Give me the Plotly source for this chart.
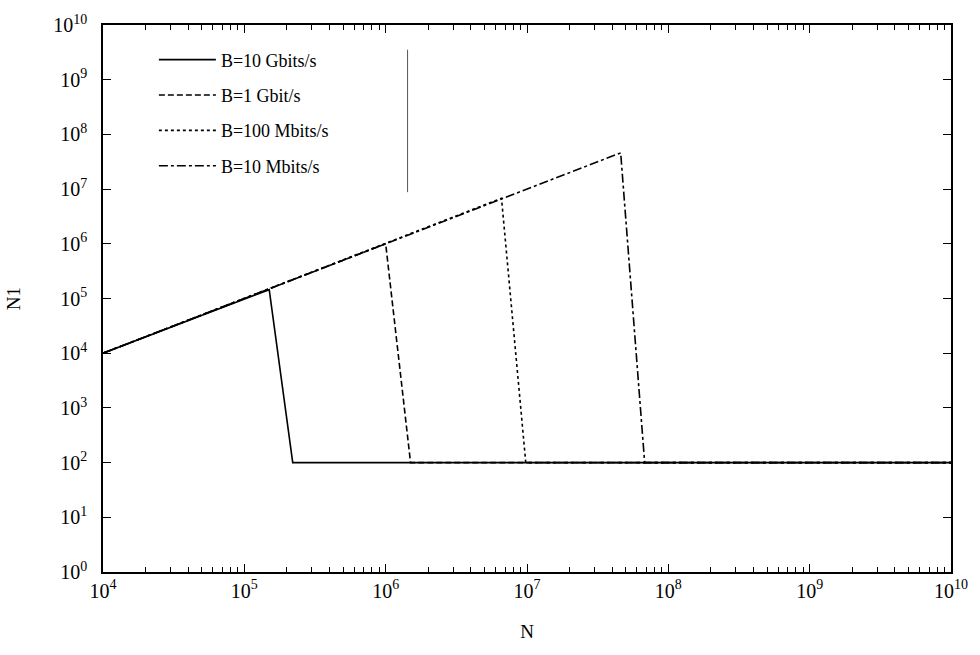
import plotly.graph_objects as go

# Data (log-log)
series_names = ["B=10 Gbits/s", "B=1 Gbit/s", "B=100 Mbits/s", "B=10 Mbits/s"]
dash_styles = ["solid", "6px,3px", "dot", "dashdot"]
start_N = 1e4
start_N1 = 1e4
peak_N = [1.5e5, 1.0e6, 6.6e6, 4.6e7]
peak_N1 = [1.45e5, 1.0e6, 6.8e6, 4.6e7]
floor_N = [2.2e5, 1.5e6, 9.8e6, 6.8e7]
floor_N1 = 1e2
end_N = 1e10

x_tick_vals = [1e4, 1e5, 1e6, 1e7, 1e8, 1e9, 1e10]
x_tick_text = ["10<sup>4</sup>", "10<sup>5</sup>", "10<sup>6</sup>", "10<sup>7</sup>",
               "10<sup>8</sup>", "10<sup>9</sup>", "10<sup>10</sup>"]
y_tick_vals = [10.0 ** k for k in range(0, 11)]
y_tick_text = ["10<sup>%d</sup>" % k for k in range(0, 11)]

FONT = "Liberation Serif"

fig = go.Figure()
for i, name in enumerate(series_names):
    xs = [start_N, peak_N[i], floor_N[i], end_N]
    ys = [start_N1, peak_N1[i], floor_N1, floor_N1]
    fig.add_trace(go.Scatter(
        x=xs, y=ys, mode="lines", name=name, legendgroup=name,
        line=dict(color="black", width=1.6, dash=dash_styles[i]),
    ))

fig.update_layout(
    width=980, height=655,
    margin=dict(l=103, r=25, t=19, b=83),
    paper_bgcolor="white", plot_bgcolor="white",
    font=dict(family=FONT, color="black", size=17),
    showlegend=True,
    legend=dict(x=0.06, y=0.97, xanchor="left", yanchor="top",
                bgcolor="rgba(0,0,0,0)", font=dict(family=FONT, size=18),
                tracegroupgap=9, itemwidth=57),
    shapes=[dict(type="line", xref="paper", yref="paper",
                 x0=(409 - 103) / 852, x1=(409 - 103) / 852,
                 y0=(572 - 44) / 553, y1=(572 - 188) / 553,
                 line=dict(color="#555", width=1))],
)
fig.update_xaxes(
    type="log", range=[4, 10], showgrid=False, zeroline=False,
    showline=True, linecolor="black", linewidth=1.5, mirror="allticks",
    ticks="inside", ticklen=8, tickcolor="black",
    tickvals=x_tick_vals, ticktext=x_tick_text,
    tickfont=dict(family=FONT, size=20),
    minor=dict(ticks="inside", ticklen=5, tickcolor="black", dtick="D1", showgrid=False),
    title=dict(text="N", font=dict(family=FONT, size=19), standoff=24),
)
fig.update_yaxes(
    type="log", range=[0, 10], showgrid=False, zeroline=False,
    showline=True, linecolor="black", linewidth=1.5, mirror="allticks",
    ticks="inside", ticklen=8, tickcolor="black",
    tickvals=y_tick_vals, ticktext=y_tick_text,
    tickfont=dict(family=FONT, size=20), ticklabelstandoff=10,
    title=dict(text="N1", font=dict(family=FONT, size=19), standoff=28),
)

fig.write_html("out.html")
